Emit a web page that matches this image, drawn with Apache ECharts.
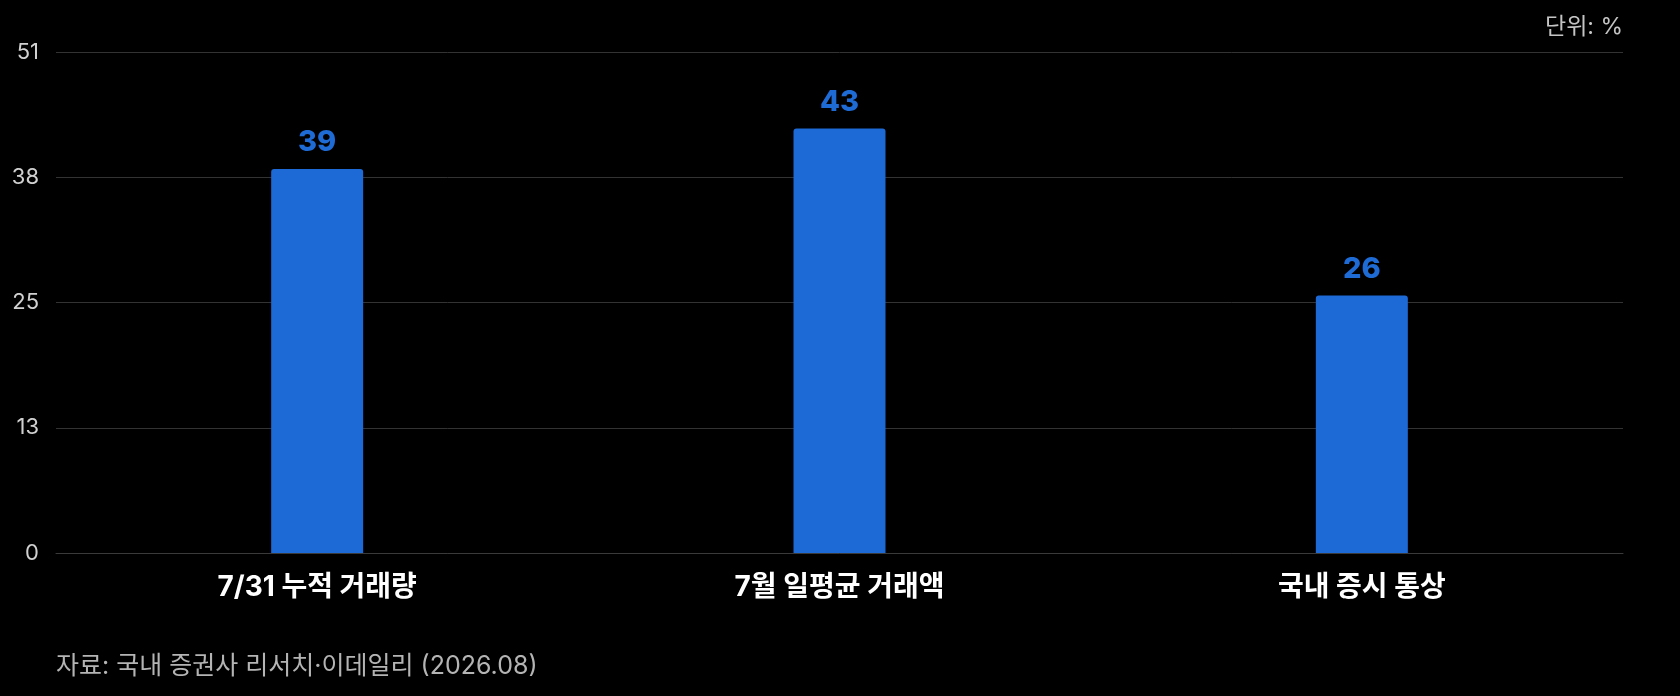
<!DOCTYPE html>
<html>
<head>
<meta charset="utf-8">
<script src="https://cdn.jsdelivr.net/npm/echarts@6/dist/echarts.min.js"></script>
<style>
    html, body { margin: 0; padding: 0; background: #000; }
    #main { width: 1680px; height: 696px; }
</style>
</head>
<body>
<div id="main"></div>
<script>
var categories = ['7/31 누적 거래량', '7월 일평균 거래액', '국내 증시 통상'];
var values = [39.1, 43.2, 26.2];
var yTickLabels = ['0', '13', '25', '38', '51'];
var yMax = 51;

var fontFamily = 'Inter, "Noto Sans CJK KR", sans-serif';

function build() {
    var myChart = echarts.init(document.getElementById('main'));
    var step = yMax / (yTickLabels.length - 1);

    var option = {
        backgroundColor: '#000',
        animation: false,
        title: [
            {
                text: '단위: %',
                right: 57,
                top: 16,
                padding: 0,
                textStyle: { color: '#c4c4c4', fontSize: 23, fontWeight: 'normal', fontFamily: fontFamily }
            },
            {
                text: '자료: 국내 증권사 리서치·이데일리 (2026.08)',
                left: 56,
                top: 654,
                padding: 0,
                textStyle: { color: '#b4b4b4', fontSize: 25, fontWeight: 'normal', fontFamily: fontFamily }
            }
        ],
        grid: {
            left: 56,
            right: 57,
            top: 52,
            bottom: 143,
            containLabel: false
        },
        xAxis: {
            type: 'category',
            data: categories,
            axisTick: { show: false },
            axisLine: { show: true, lineStyle: { color: '#3a3a3a', width: 1 } },
            axisLabel: {
                color: '#ffffff',
                fontSize: 28,
                fontWeight: 'bold',
                fontFamily: fontFamily,
                margin: 21
            }
        },
        yAxis: {
            type: 'value',
            min: 0,
            max: yMax,
            interval: step,
            axisLine: { show: false },
            axisTick: { show: false },
            splitLine: { lineStyle: { color: '#333333', width: 1 } },
            axisLabel: {
                color: '#d0d0d0',
                fontSize: 22,
                fontFamily: fontFamily,
                margin: 17,
                formatter: function (v) {
                    var i = Math.round(v / step);
                    return yTickLabels[i];
                }
            }
        },
        series: [
            {
                type: 'bar',
                data: values,
                barWidth: 92,
                itemStyle: {
                    color: '#1d6ad6',
                    borderRadius: [3, 3, 0, 0]
                },
                label: {
                    show: true,
                    position: 'top',
                    distance: 12,
                    color: '#1f6bd6',
                    fontSize: 29,
                    fontWeight: 800,
                    fontFamily: fontFamily,
                    formatter: function (p) { return Math.round(p.value); }
                }
            }
        ]
    };

    myChart.setOption(option);
}

build();
</script>
</body>
</html>
